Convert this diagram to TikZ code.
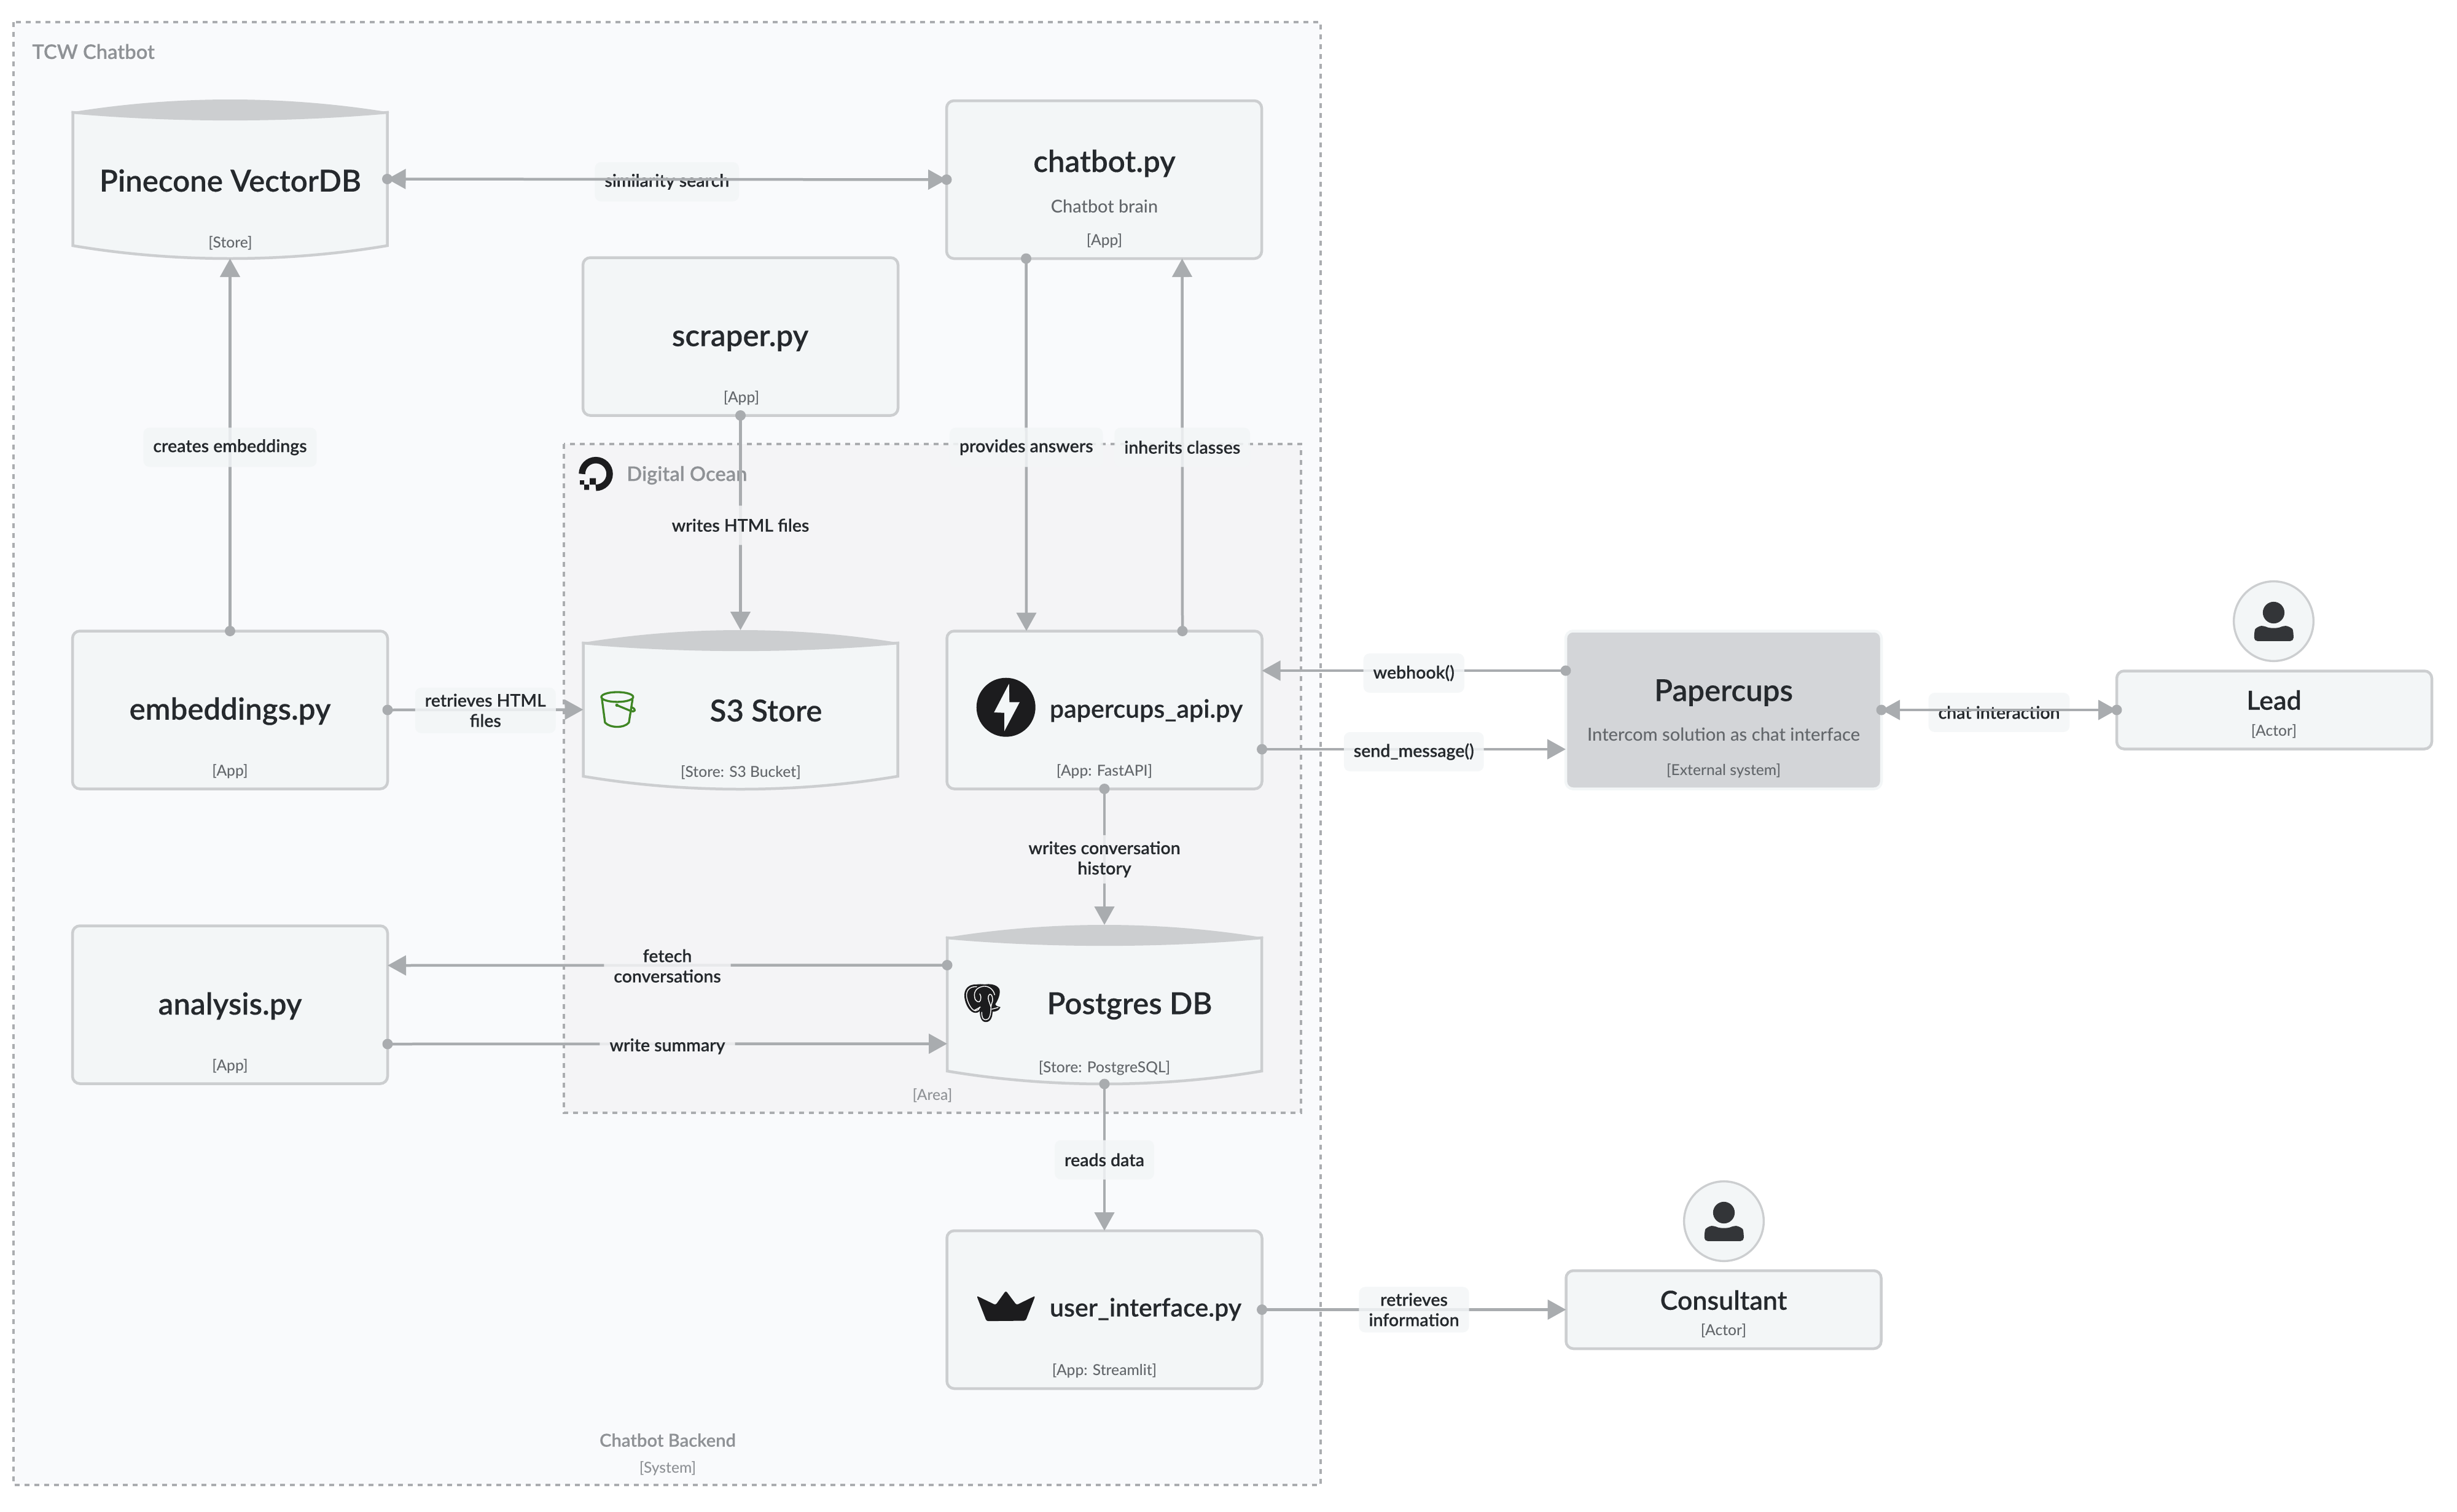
\documentclass[tikz,border=0pt]{standalone}
\usepackage{fontspec}
\setmainfont{Lato Medium}
\newfontfamily\latomedium[FakeBold=.2]{Lato Semibold}
\usetikzlibrary{arrows.meta}
\definecolor{outerfill}{HTML}{F9FAFC}
\definecolor{areafill}{HTML}{F4F4F6}
\definecolor{nodefill}{HTML}{F3F6F7}
\definecolor{nodegray}{HTML}{CCCED0}
\definecolor{edgegray}{HTML}{A9ACAF}
\definecolor{framegray}{HTML}{ABADB0}
\definecolor{textdark}{HTML}{25292D}
\definecolor{textgray}{HTML}{63676B}
\definecolor{framegraytext}{HTML}{8F9296}
\definecolor{extfill}{HTML}{D3D5D8}
\definecolor{iconblack}{HTML}{1C1C1E}
\definecolor{persondark}{HTML}{333538}
\definecolor{bucketgreen}{HTML}{3F8624}
\tikzset{
  frame/.style={draw=framegray,line width=.04cm,dash pattern=on .08cm off .08cm},
  boxnode/.style={draw=nodegray,fill=nodefill,line width=.045cm,rounded corners=.12cm,minimum width=5.13cm,minimum height=2.57cm,outer sep=0pt,inner sep=0pt},
  actornode/.style={boxnode,minimum height=1.27cm},
  extnode/.style={boxnode,fill=extfill,draw=nodefill,minimum width=5.14cm,minimum height=2.57cm},
  storenode/.style={minimum width=5.12cm,minimum height=2.59cm,outer sep=0pt,inner sep=0pt},
  nametext/.style={text=textdark,font=\latomedium\fontsize{14}{16}\selectfont},
  smallname/.style={text=textdark,font=\latomedium\fontsize{11.7}{14}\selectfont},
  actorname/.style={text=textdark,font=\latomedium\fontsize{12.2}{14}\selectfont},
  desctext/.style={text=textgray,font=\fontsize{8.2}{10}\selectfont},
  tagtext/.style={text=textgray,font=\fontsize{7}{8}\selectfont},
  frametext/.style={text=framegraytext,font=\latomedium\fontsize{9.3}{11}\selectfont},
  edgelabel/.style={fill=nodefill,fill opacity=.85,text opacity=1,text=textdark,rounded corners=.1cm,align=center,yshift=-.04cm,
    font=\latomedium\fontsize{8.1}{9.4}\selectfont,inner xsep=.16cm,inner ysep=.1cm,minimum height=.64cm},
  edge/.style={draw=edgegray,line width=.045cm,-{Triangle[length=.3cm,width=.32cm]}},
  bothedge/.style={edge,{Triangle[length=.3cm,width=.32cm]}-{Triangle[length=.3cm,width=.32cm]}},
}
\newcommand\storeshape[2]{
  \begin{scope}[shift={(#1,#2)}]
    \draw[draw=nodegray,fill=nodefill,line width=.045cm](-2.56,-1.085)--(-2.56,1.085)
      ..controls(-.9,1.365)and(.9,1.365)..(2.56,1.085)--(2.56,-1.085)
      ..controls(.9,-.94)and(-.9,-.94)..cycle;
    \fill[nodegray](-2.6,-1.085)..controls(-.9,-1.365)and(.9,-1.365)..(2.6,-1.085)
      ..controls(.9,-.94)and(-.9,-.94)..cycle;
  \end{scope}
}
\begin{document}
\begin{tikzpicture}[y=-1cm]
\useasboundingbox(0,0)rectangle(40,24.62);
% frames
\draw[frame,fill=outerfill](.22,.36)rectangle(21.5,24.18);
\draw[frame,fill=areafill](9.18,7.23)rectangle(21.18,18.12);
\node[frametext,anchor=west](tcwlabel)at(.4,.84){TCW Chatbot};
\node[frametext,anchor=west](oceanlabel)at(10.08,7.74){Digital Ocean};
\node[tagtext,text=framegraytext](arealabel)at(15.18,17.84){[Area]};
\node[frametext,font=\latomedium\fontsize{8.3}{10}\selectfont](systemlabel)at(10.87,23.45){Chatbot Backend};
\node[tagtext,text=framegraytext](systemtag)at(10.87,23.91){[System]};
% stores
\storeshape{3.745}{2.915}
\storeshape{12.055}{11.555}
\storeshape{17.98}{16.355}
\node[storenode](pinecone)at(3.745,2.915){};
\node[storenode](s3store)at(12.055,11.555){};
\node[storenode](postgres)at(17.98,16.355){};
% boxes
\node[boxnode](chatbot)at(17.975,2.925){};
\node[boxnode](scraper)at(12.055,5.48){};
\node[boxnode](embeddings)at(3.745,11.56){};
\node[boxnode](papercupsapi)at(17.98,11.56){};
\node[boxnode](analysis)at(3.745,16.36){};
\node[boxnode](userinterface)at(17.98,21.325){};
\node[extnode](papercups)at(28.06,11.56){};
\node[actornode](lead)at(37.025,11.56){};
\node[actornode](consultant)at(28.06,21.325){};
% texts
\node[nametext](pineconename)at(3.75,2.94){Pinecone VectorDB};
\node[tagtext](pineconetag)at(3.75,3.96){[Store]};
\node[nametext](chatbotname)at(17.98,2.66){chatbot.py};
\node[desctext](chatbotdesc)at(17.98,3.36){Chatbot brain};
\node[tagtext](chatbottag)at(17.98,3.92){[App]};
\node[nametext](scrapername)at(12.05,5.55){scraper.py};
\node[tagtext](scrapertag)at(12.07,6.48){[App]};
\node[nametext](embeddingsname)at(3.745,11.58){embeddings.py};
\node[tagtext](embeddingstag)at(3.745,12.56){[App]};
\node[nametext](s3name)at(12.47,11.57){S3 Store};
\node[tagtext](s3tag)at(12.06,12.58){[Store: S3 Bucket]};
\node[smallname](apiname)at(18.66,11.57){papercups\_api.py};
\node[tagtext](apitag)at(17.98,12.56){[App: FastAPI]};
\node[nametext](analysisname)at(3.745,16.38){analysis.py};
\node[tagtext](analysistag)at(3.745,17.36){[App]};
\node[nametext](postgresname)at(18.39,16.38){Postgres DB};
\node[tagtext](postgrestag)at(17.98,17.39){[Store: PostgreSQL]};
\node[smallname](uiname)at(18.65,21.32){user\_interface.py};
\node[tagtext](uitag)at(17.98,22.32){[App: Streamlit]};
\node[nametext](papercupsname)at(28.06,11.28){Papercups};
\node[desctext,font=\fontsize{8.3}{10}\selectfont](papercupsdesc)at(28.06,11.96){Intercom solution as chat interface};
\node[tagtext](papercupstag)at(28.06,12.55){[External system]};
\node[actorname](leadname)at(37.02,11.4){Lead};
\node[tagtext](leadtag)at(37.02,11.91){[Actor]};
\node[actorname](consultantname)at(28.06,21.17){Consultant};
\node[tagtext](consultanttag)at(28.06,21.67){[Actor]};
% labels that lie under their line
\path(pinecone.east)--(chatbot.west)node[midway,edgelabel](similarity){similarity search};
\path(papercups.east)--(lead.west)node[midway,edgelabel](chatinteraction){chat interaction};
% connectors
\draw[bothedge](pinecone.east)--(chatbot.west);
\draw[bothedge](papercups.east)--(lead.west);
\draw[edge](embeddings.north)--(pinecone.south)node[midway,edgelabel](creates){creates embeddings};
\draw[edge](scraper.south)--(s3store.north)node[midway,edgelabel,fill=areafill](writeshtml){writes HTML files};
\draw[edge]([xshift=-1.27cm]chatbot.south)--([xshift=-1.27cm]papercupsapi.north)node[midway,edgelabel](provides){provides answers};
\draw[edge]([xshift=1.27cm]papercupsapi.north)--([xshift=1.27cm]chatbot.south)node[midway,edgelabel](inherits){inherits classes};
\draw[edge](embeddings.east)--(s3store.west)node[midway,edgelabel,yshift=.03cm](retrieveshtml){retrieves HTML\\files};
\draw[edge]([yshift=.64cm]papercups.west)--([yshift=.64cm]papercupsapi.east)node[midway,edgelabel](webhook){webhook()};
\draw[edge]([yshift=-.64cm]papercupsapi.east)--([yshift=-.64cm]papercups.west)node[midway,edgelabel](sendmessage){send\_message()};
\draw[edge](papercupsapi.south)--(postgres.north)node[midway,edgelabel,fill=areafill](writesconv){writes conversation\\history};
\draw[edge]([yshift=.64cm]postgres.west)--([yshift=.64cm]analysis.east)node[midway,edgelabel,fill=areafill,yshift=.03cm](fetech){fetech\\conversations};
\draw[edge]([yshift=-.64cm]analysis.east)--([yshift=-.64cm]postgres.west)node[midway,edgelabel,fill=areafill](summary){write summary};
\draw[edge](postgres.south)--(userinterface.north)node[midway,edgelabel](readsdata){reads data};
\draw[edge](userinterface.east)--(consultant.west)node[midway,edgelabel,yshift=.04cm](retrievesinfo){retrieves\\information};
\foreach \p in {(pinecone.east),(chatbot.west),(embeddings.north),(scraper.south),(papercups.east),(lead.west),
  ([xshift=-1.27cm]chatbot.south),([xshift=1.27cm]papercupsapi.north),(embeddings.east),
  ([yshift=.64cm]papercups.west),([yshift=-.64cm]papercupsapi.east),(papercupsapi.south),
  ([yshift=.64cm]postgres.west),([yshift=-.64cm]analysis.east),(postgres.south),(userinterface.east)}
  \fill[edgegray]\p circle[radius=.085];
% digital ocean logo
\begin{scope}[shift={(9.70,7.717)},y=1cm]
\draw[iconblack,line width=.105cm](-.225,0)arc[start angle=180,end angle=-90,radius=.225];
\end{scope}
\fill[iconblack](9.6,7.787)rectangle(9.7,7.89)(9.51,7.89)rectangle(9.59,7.977)(9.44,7.82)rectangle(9.51,7.89);
% s3 bucket
\begin{scope}[shift={(9.6,11.1)},x=.00333cm,y=-.00333cm,bucketgreen,line width=.033cm,line join=round]
\draw(135,75)ellipse[x radius=78,y radius=24];
\draw(60,85)--(75,200)..controls(100,228)and(170,228)..(192,200)--(210,85);
\fill(133,115)circle[radius=8];
\draw(133,115)--(198,142)..controls(225,152)and(230,135)..(205,125);
\end{scope}
% postgres
\begin{scope}[shift={(15.7,15.9)},x=.00333cm,y=-.00333cm]
\filldraw[iconblack,draw=iconblack,line width=.02cm](60,42)..controls(20,40)and(0,65)..(3,100)
  ..controls(8,140)and(30,175)..(55,175)..controls(68,175)and(75,165)..(78,160)
  ..controls(78,190)and(82,220)..(105,220)..controls(130,220)and(135,190)..(135,170)
  ..controls(150,170)and(168,165)..(172,152)..controls(160,150)and(150,145)..(148,135)
  ..controls(165,110)and(175,80)..(168,62)..controls(155,40)and(120,38)..(100,42)..controls(85,40)and(70,40)..(60,42)--cycle;
\draw[white,line width=.014cm,line cap=round](60,50)..controls(25,48)and(5,70)..(12,105)..controls(18,135)and(38,168)..(55,168)..controls(65,168)and(72,160)..(75,150);
\draw[white,line width=.014cm,line cap=round](85,175)..controls(85,200)and(90,212)..(105,212)..controls(122,212)and(130,190)..(130,150)..controls(125,130)and(112,110)..(118,95)..controls(128,75)and(140,95)..(138,120)..controls(135,130)and(130,140)..(130,150);
\draw[white,line width=.014cm,line cap=round](50,100)..controls(45,75)and(60,52)..(95,48)..controls(125,46)and(145,70)..(148,90);
\draw[white,line width=.014cm,line cap=round](50,100)..controls(52,125)and(75,130)..(78,118)..controls(82,105)and(82,95)..(75,85);
\draw[white,line width=.014cm,line cap=round](135,160)--(165,152);
\draw[white,line width=.014cm,line cap=round](50,165)--(78,150);
\end{scope}
% fastapi
\fill[iconblack](16.377,11.517)circle[radius=.48];
\fill[nodefill](16.427,11.133)--(16.183,11.6)--(16.35,11.607)--(16.35,11.907)--(16.6,11.433)--(16.433,11.433)--cycle;
% streamlit
\begin{scope}[shift={(15.8,20.8)},x=.00333cm,y=-.00333cm]
\fill[iconblack,rounded corners=.03cm](30,90)--(123,135)--(173,65)--(225,135)--(317,90)--(270,212)--(78,214)--cycle;
\end{scope}
% actors
\foreach \px/\py in {36.2/9.3,27.25/19.07}{
\begin{scope}[shift={(\px,\py)},x=.00333cm,y=-.00333cm]
\draw[nodegray,fill=nodefill,line width=.034cm](245,245)circle[radius=195];
\fill[persondark](245,203)circle[radius=53];
\fill[persondark,rounded corners=.05cm](150,342)--(150,300)..controls(155,280)and(175,268)..(200,268)..controls(225,280)and(265,280)..(290,268)..controls(315,268)and(337,280)..(342,300)--(342,342)--cycle;
\end{scope}
}
\end{tikzpicture}
\end{document}
